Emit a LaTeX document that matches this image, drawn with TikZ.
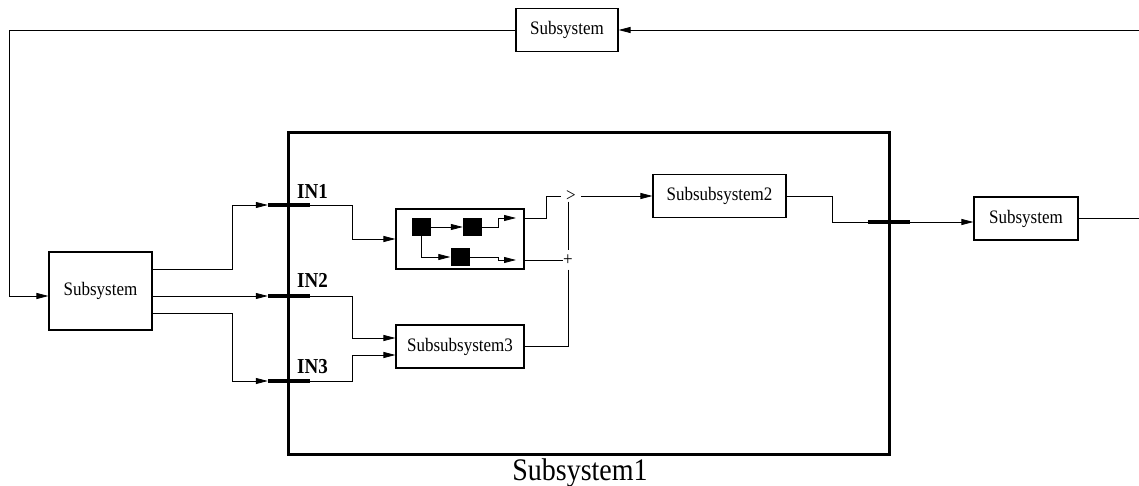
\documentclass[tikz,border=0pt]{standalone}
\usepackage{fontspec}
\setmainfont{Liberation Serif}
\usepackage{graphicx}
\usetikzlibrary{arrows.meta}
\newcommand{\tallt}[1]{\scalebox{1}[1.12]{#1}}
\tikzset{
  wire/.style={line width=0.8pt},
  arr/.style={wire,-{Triangle[length=12pt,width=6pt]}},
  blk/.style={draw,line width=1.1pt,inner sep=0pt,font=\fontsize{17}{17}\selectfont},
  mini/.style={fill=black,inner sep=0pt,minimum width=19pt,minimum height=18pt},
  portbar/.style={fill=black,inner sep=0pt,minimum width=42pt,minimum height=4.5pt},
  plbl/.style={anchor=west,inner sep=0pt,font=\fontsize{19}{19}\selectfont\bfseries},
  sym/.style={inner sep=0pt,font=\fontsize{17}{17}\selectfont}
}
\begin{document}
\begin{tikzpicture}[x=1pt,y=-1pt]
\useasboundingbox (0,0) rectangle (1139,486);
% big subsystem box
\draw[line width=3pt] (288,133) rectangle (889,454);
\node[anchor=base,inner sep=0pt,font=\fontsize{28}{28}\selectfont] (lab) at (580,480) {\tallt{Subsystem1}};
% blocks
\node[blk,minimum width=102pt,minimum height=43pt] (topS) at (567,30) {\tallt{Subsystem}};
\node[blk,minimum width=103pt,minimum height=78pt] (leftS) at (100.5,291) {\tallt{Subsystem}};
\node[blk,minimum width=104pt,minimum height=43pt] (rightS) at (1026,218.5) {\tallt{Subsystem}};
\node[blk,minimum width=133pt,minimum height=43pt] (ss2) at (719.5,196) {\tallt{Subsubsystem2}};
\node[blk,minimum width=128pt,minimum height=43pt] (ss3) at (460,346.5) {\tallt{Subsubsystem3}};
\node[blk,minimum width=128pt,minimum height=60pt] (inner) at (460,239) {};
\node[mini] (b1) at (421.5,227) {};
\node[mini] (b2) at (472.5,227) {};
\node[mini] (b3) at (460,257) {};
\coordinate (o1) at (516,218);
\coordinate (o2) at (516,260);
% ports
\node[portbar] (p1) at (289,205) {};
\node[portbar] (p2) at (289,296) {};
\node[portbar] (p3) at (289,381) {};
\node[portbar] (pout) at (889,222) {};
\node[plbl] (l1) at (297,191) {\tallt{IN1}};
\node[plbl] (l2) at (297,280) {\tallt{IN2}};
\node[plbl] (l3) at (297,367) {\tallt{IN3}};
% sum symbols
\node[sym,inner xsep=5pt] (gt) at (571,196) {\tallt{>}};
\node[sym,inner ysep=4pt] (plus) at (568,260) {\tallt{+}};
% connectors
\draw[arr] (topS.west) -| ([xshift=-39pt,yshift=-5pt]leftS.west) -- ([yshift=-5pt]leftS.west);
\draw[arr] ([yshift=22pt]leftS.east) -| ([xshift=-35pt]p1.west) -- (p1.west);
\draw[arr] ([yshift=-5pt]leftS.east) -- (p2.west);
\draw[arr] ([yshift=-22pt]leftS.east) -| ([xshift=-35pt]p3.west) -- (p3.west);
\draw[arr] (p1.east) -| ([xshift=-43pt]inner.west) -- (inner.west);
\draw[arr] (p2.east) -| ([xshift=-43pt,yshift=8.5pt]ss3.west) -- ([yshift=8.5pt]ss3.west);
\draw[arr] (p3.east) -| ([xshift=-43pt,yshift=-8.5pt]ss3.west) -- ([yshift=-8.5pt]ss3.west);
\draw[arr] (b1.east) -- (b2.west);
\draw[arr] (b1.south) |- (b3.west);
\draw[arr] (b2.east) -| ([xshift=-18pt]o1) -- (o1);
\draw[arr] (b3.east) -| ([xshift=-18pt]o2) -- (o2);
\draw[wire] ([yshift=21pt]inner.east) -- ([xshift=22pt,yshift=21pt]inner.east) |- (gt.west);
\draw[wire] ([yshift=-21pt]inner.east) -- (plus.west);
\draw[arr] (gt.east) -- (ss2.west);
\draw[wire] (plus.north |- gt.south) -- (plus.north);
\draw[wire] (plus.south) |- (ss3.east);
\draw[wire] (ss2.east) -| ([xshift=-35pt]pout.west) -- (pout.west);
\draw[arr] (pout.east) -- (pout.east -| rightS.west);
\coordinate (cR) at (1141,218.5);
\draw[arr] (rightS.east) -- (cR) |- (topS.east);
\end{tikzpicture}
\end{document}
